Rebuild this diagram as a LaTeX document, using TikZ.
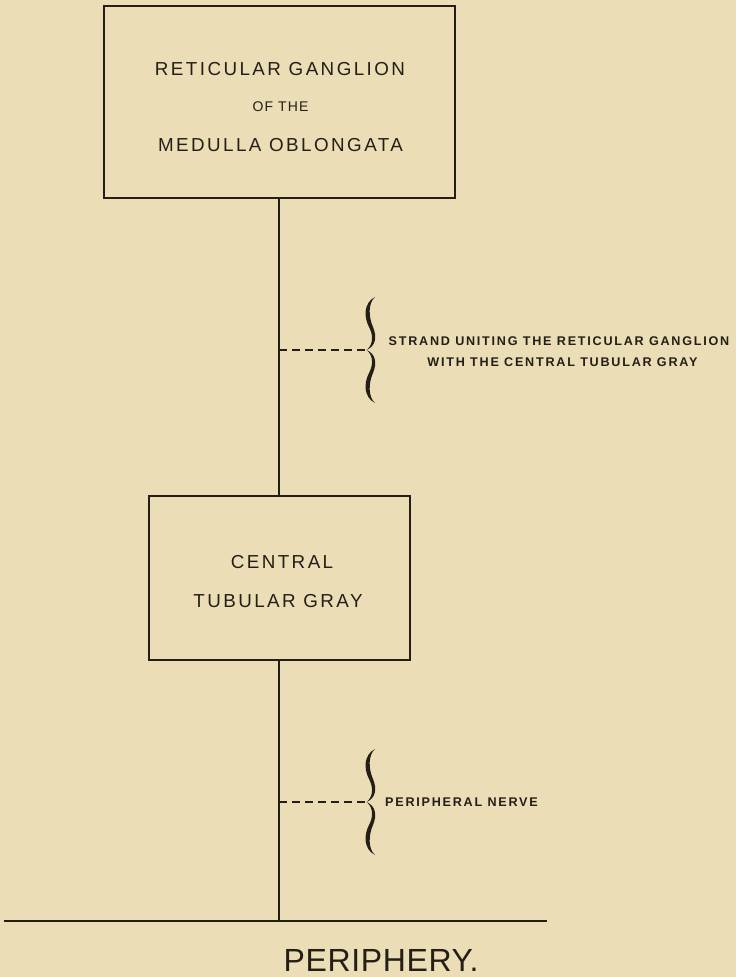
\documentclass[tikz,border=0pt]{standalone}
\usepackage{fontspec}
\setmainfont{Liberation Sans}
\newfontfamily\boxfont[LetterSpace=13]{Liberation Sans}
\newfontfamily\ofthefont[LetterSpace=8]{Liberation Sans}
\newfontfamily\notefont[LetterSpace=14]{Liberation Sans}
\newfontfamily\bigfont[LetterSpace=2]{Liberation Sans}
\definecolor{paper}{HTML}{EBDDB5}
\definecolor{ink}{HTML}{231F17}
\begin{document}
\begin{tikzpicture}[x=1pt,y=-1pt,
  boxnode/.style={draw=ink,line width=1.3pt,inner sep=0pt},
  boxtext/.style={anchor=base,inner sep=0pt,text=ink,font=\boxfont\fontsize{18.8}{20}\selectfont},
  smalltext/.style={anchor=base,inner sep=0pt,text=ink,font=\ofthefont\fontsize{14}{16}\selectfont},
  notetext/.style={anchor=base,inner sep=0pt,text=ink,font=\notefont\bfseries\fontsize{12.6}{14}\selectfont},
  bigtext/.style={anchor=base,inner sep=0pt,text=ink,font=\bigfont\fontsize{32}{36}\selectfont},
  strand/.style={draw=ink,line width=1.3pt},
  dashline/.style={draw=ink,line width=1.2pt,dash pattern=on 8pt off 5pt},
  pics/curlybrace/.style={code={
    \fill[ink] (8.5,-53) .. controls (-3,-47) and (-3,-33) .. (3,-22)
      .. controls (7,-14) and (6.5,-5) .. (0,0)
      .. controls (9.5,-4) and (10.5,-13.5) .. (6.5,-23)
      .. controls (2,-33) and (1.5,-47) .. (8.5,-53) -- cycle;
    \fill[ink] (8.5,53) .. controls (-3,47) and (-3,33) .. (3,22)
      .. controls (7,14) and (6.5,5) .. (0,0)
      .. controls (9.5,4) and (10.5,13.5) .. (6.5,23)
      .. controls (2,33) and (1.5,47) .. (8.5,53) -- cycle;
  }}
]
\fill[paper] (0,0) rectangle (736,977);
\useasboundingbox (0,0) rectangle (736,977);

% boxes
\node[boxnode,minimum width=351pt,minimum height=192pt] (rg) at (279.5,102) {};
\node[boxtext] (rg1) at (280,75) {RETICULAR GANGLION};
\node[smalltext] (rg2) at (280.5,111.7) {OF THE};
\node[boxtext] (rg3) at (280.5,151.7) {MEDULLA OBLONGATA};

\node[boxnode,minimum width=261pt,minimum height=164pt] (ctg) at (279.5,578) {};
\node[boxtext] (ctg1) at (282,568) {CENTRAL};
\node[boxtext] (ctg2) at (278,607) {TUBULAR GRAY};

% periphery
\coordinate (hl) at (4,921);
\coordinate (hr) at (547,921);
\coordinate (pj) at (279,921);
\draw[ink,line width=1.4pt] (hl) -- (hr);
\node[bigtext] (per) at (381,971.5) {PERIPHERY.};

% strands
\draw[strand] (rg.south -| pj) -- (ctg.north -| pj);
\draw[strand] (ctg.south -| pj) -- (pj);

% braces and notes
\coordinate (b1) at (366.5,350);
\coordinate (d1) at (279,350);
\pic at (b1) {curlybrace};
\draw[dashline] (d1) -- (b1);
\node[notetext] (n1a) at (559,345) {STRAND UNITING THE RETICULAR GANGLION};
\node[notetext] (n1b) at (562.5,366.3) {WITH THE CENTRAL TUBULAR GRAY};

\coordinate (b2) at (366.5,802);
\coordinate (d2) at (279,802);
\pic at (b2) {curlybrace};
\draw[dashline] (d2) -- (b2);
\node[notetext,anchor=base west] (n2) at (385,806.5) {PERIPHERAL NERVE};
\end{tikzpicture}
\end{document}
